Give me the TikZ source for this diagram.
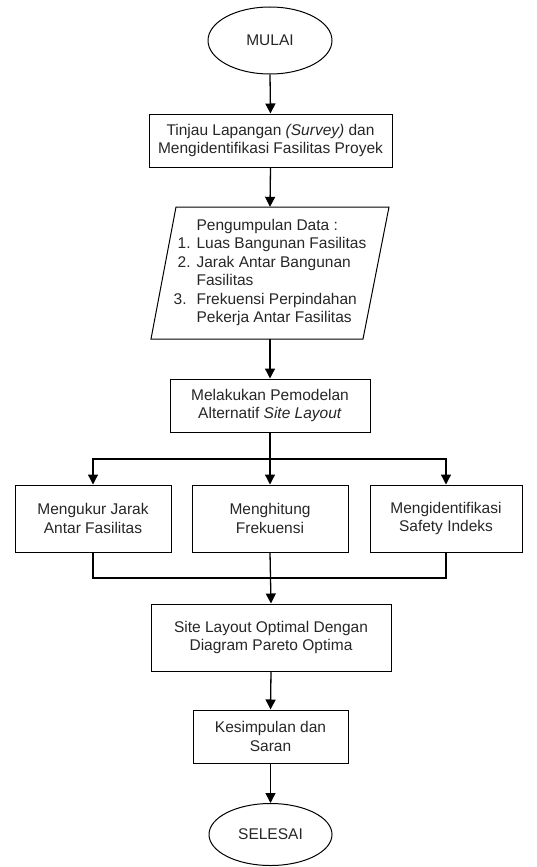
\documentclass[tikz,border=0pt]{standalone}
\usepackage{fontspec}
\setmainfont{Liberation Sans}
\usetikzlibrary{shapes.geometric,arrows.meta}
\begin{document}
\begin{tikzpicture}[x=1pt,y=-1pt,
  every node/.style={font=\fontsize{15.5}{18.5}\selectfont, text=black!85, inner sep=0pt, align=center},
  boxnode/.style={draw, rectangle, line width=1pt},
  ovalnode/.style={draw, ellipse, line width=1pt},
  conn/.style={line width=1.3pt},
  arr/.style={conn, -{Triangle[width=10pt,length=10pt]}}]
\useasboundingbox (0,0) rectangle (536,867);
\node[ovalnode, minimum width=124pt, minimum height=67pt] (mulai) at (270,40.5) {MULAI};
\node[boxnode, minimum width=243pt, minimum height=53pt] (tinjau) at (270.5,140.5) {Tinjau Lapangan \textit{(Survey)} dan\\Mengidentifikasi Fasilitas Proyek};
\draw[line width=1pt] (176,207) -- (389,207) -- (363,339) -- (151,339) -- cycle;
\node[minimum width=212pt, minimum height=132pt] (data) at (270,273) {%
\begin{tabular}{@{}r@{\hspace{6pt}}l@{}}
 & Pengumpulan Data :\\
1. & Luas Bangunan Fasilitas\\
2. & Jarak Antar Bangunan\\
 & Fasilitas\\
3.\hspace{4pt} & Frekuensi Perpindahan\\
 & Pekerja Antar Fasilitas
\end{tabular}};
\node[boxnode, minimum width=200pt, minimum height=53pt] (model) at (270,405.5) {Melakukan Pemodelan\\Alternatif \textit{Site Layout}};
\node[boxnode, minimum width=156pt, minimum height=67pt] (jarak) at (93,518.5) {Mengukur Jarak\\Antar Fasilitas};
\node[boxnode, minimum width=156pt, minimum height=67pt] (frek) at (270,518.5) {Menghitung\\Frekuensi};
\node[boxnode, minimum width=152pt, minimum height=67pt] (safety) at (446,518.5) {Mengidentifikasi\\Safety Indeks};
\node[boxnode, minimum width=240pt, minimum height=67pt] (site) at (271,637.5) {Site Layout Optimal Dengan\\Diagram Pareto Optima};
\node[boxnode, minimum width=155pt, minimum height=53pt] (kes) at (270.5,736.5) {Kesimpulan dan\\Saran};
\node[ovalnode, minimum width=123pt, minimum height=62pt] (selesai) at (270.5,834.5) {SELESAI};
\coordinate (split) at (270,459);
\coordinate (merge) at (270,578);
\draw[arr] (mulai.south) -- (tinjau.north);
\draw[arr] (tinjau.south) -- (data.north);
\draw[arr] (data.south) -- (model.north);
\draw[conn] (model.south) -- (split);
\draw[arr] (split) -| (jarak.north);
\draw[arr] (split) -| (safety.north);
\draw[arr] (split) -- (frek.north);
\draw[conn] (jarak.south) |- (merge);
\draw[conn] (safety.south) |- (merge);
\draw[arr] (frek.south) -- (site.north);
\draw[arr] (site.south) -- (kes.north);
\draw[arr] (kes.south) -- (selesai.north);
\end{tikzpicture}
\end{document}
